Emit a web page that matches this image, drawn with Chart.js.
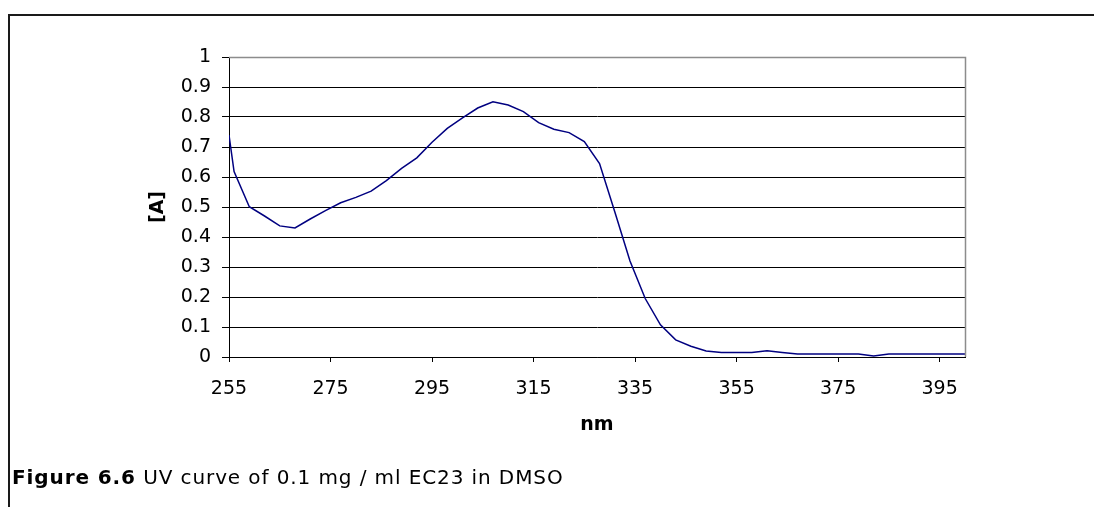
<!DOCTYPE html>
<html>
<head>
<meta charset="utf-8">
<script src="https://cdn.jsdelivr.net/npm/chart.js@4/dist/chart.umd.min.js"></script>
<style>
  html, body { margin: 0; padding: 0; background: #fff; }
  #wrap { position: relative; width: 1094px; height: 507px; overflow: hidden; background: #fff; }
  #frame { position: absolute; left: 8px; top: 14px; width: 1200px; height: 600px;
           border-left: 2px solid #1a1a1a; border-top: 2px solid #1a1a1a; }
  canvas { position: absolute; left: 0; top: 0; }
  #caption { position: absolute; left: 12px; top: 466px; font-family: "DejaVu Sans", Verdana, sans-serif;
             font-size: 20px; letter-spacing: 0.9px; color: #000; white-space: nowrap; line-height: 22px; }
</style>
</head>
<body>
<div id="wrap">
  <div id="frame"></div>
  <canvas id="c" width="1094" height="507"></canvas>
  <div id="caption"><b>Figure 6.6</b> UV curve of 0.1 mg / ml EC23 in DMSO</div>
</div>
<script>
// Wavelength (nm) and absorbance [A]
const wavelengths = [255,256,259,262,265,268,271,274,277,280,283,286,289,292,295,298,301,304,307,310,313,316,319,322,325,328,331,334,337,340,343,346,349,352,355,358,361,364,367,370,373,376,379,382,385,388,391,394,397,400];
const absorbance  = [0.74,0.618,0.501,0.47,0.437,0.43,0.46,0.488,0.514,0.532,0.553,0.588,0.629,0.664,0.716,0.762,0.797,0.83,0.851,0.84,0.818,0.781,0.759,0.748,0.718,0.645,0.484,0.32,0.195,0.107,0.057,0.036,0.02,0.015,0.015,0.015,0.021,0.015,0.01,0.01,0.01,0.01,0.01,0.003,0.01,0.01,0.01,0.01,0.01,0.01];
const xTickValues = [255,275,295,315,335,355,375,395];
const xTitle = 'nm';
const yTitle = '[A]';

const FONT = '"DejaVu Sans", Verdana, sans-serif';

const borderPlugin = {
  id: 'plotBorder',
  afterDraw(chart) {
    const {ctx, chartArea: a} = chart;
    ctx.save();
    ctx.strokeStyle = '#8c8c8c';
    ctx.lineWidth = 1.5;
    ctx.beginPath();
    ctx.moveTo(Math.round(a.left), Math.round(a.top) + 0.5);
    ctx.lineTo(Math.round(a.right) + 0.5, Math.round(a.top) + 0.5);
    ctx.lineTo(Math.round(a.right) + 0.5, Math.round(a.bottom));
    ctx.stroke();
    ctx.restore();
  }
};

new Chart(document.getElementById('c'), {
  type: 'line',
  data: {
    datasets: [{
      data: wavelengths.map((x, i) => ({x: x, y: absorbance[i]})),
      borderColor: '#000080',
      borderWidth: 1.5,
      pointRadius: 0,
      tension: 0,
      fill: false
    }]
  },
  options: {
    responsive: false,
    animation: false,
    devicePixelRatio: 1,
    layout: { padding: { left: 0, top: 57, right: 129, bottom: 0 } },
    plugins: { legend: { display: false }, tooltip: { enabled: false } },
    scales: {
      x: {
        type: 'linear',
        min: 255, max: 400,
        afterBuildTicks: s => { s.ticks = xTickValues.map(v => ({value: v})); },
        afterFit: s => { s.height = 150; },
        grid: { drawOnChartArea: false, drawTicks: true, tickLength: 5, color: '#000', lineWidth: 1 },
        border: { color: '#000', width: 1 },
        ticks: { color: '#000', font: { family: FONT, size: 19 }, padding: 15.6, maxRotation: 0, autoSkip: false,
                 callback: v => String(v) },
        title: { display: true, text: xTitle, color: '#000', font: { family: FONT, size: 19, weight: 'bold' },
                 padding: { top: 0, bottom: 70.6 } }
      },
      y: {
        min: 0, max: 1,
        afterFit: s => { s.width = 229; },
        grid: { drawOnChartArea: true, drawTicks: true, tickLength: 7, color: '#000', lineWidth: 1 },
        border: { color: '#000', width: 1 },
        ticks: { stepSize: 0.1, color: '#000', font: { family: FONT, size: 19 }, padding: 11,
                 callback: v => String(Number(v.toFixed(1))) },
        title: { display: true, text: yTitle, color: '#000', font: { family: FONT, size: 19, weight: 'bold' },
                 padding: { top: 146.6, bottom: 0 } }
      }
    }
  },
  plugins: [borderPlugin]
});
</script>
</body>
</html>
